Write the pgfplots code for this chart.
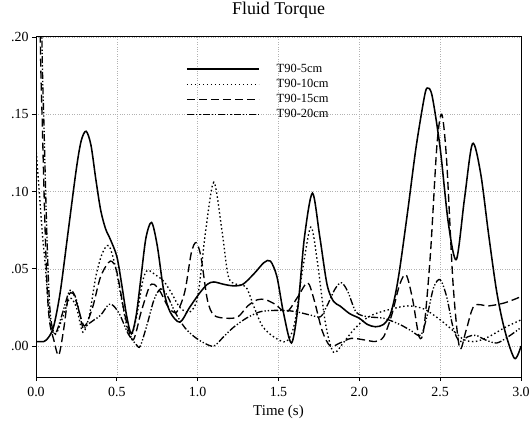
\documentclass[border=0pt]{standalone}
\usepackage{fontspec}
\setmainfont{Liberation Serif}
\usepackage{pgfplots}
\pgfplotsset{compat=1.18}
\begin{document}
\begin{tikzpicture}
\begin{axis}[
  scale only axis, width=485bp, height=340bp,
  xmin=0, xmax=3, ymin=-0.02, ymax=0.2,
  xtick={0,0.5,1,1.5,2,2.5,3}, xticklabels={0.0,0.5,1.0,1.5,2.0,2.5,3.0},
  ytick={0,0.05,0.1,0.15,0.2}, yticklabels={.00,.05,.10,.15,.20},
  tick pos=left, tick align=outside, major tick length=4bp,
  tick style={black, line width=0.7pt},
  grid=major, grid style={dotted, gray!60, line width=0.6pt},
  axis line style={line width=1pt},
  /pgf/number format/assume math mode=true,
  ticklabel style={font=\fontsize{14}{16}\selectfont},
  xticklabel style={yshift=-3bp},
  title={Fluid Torque},
  title style={font=\fontsize{18}{20}\selectfont, at={(axis description cs:0.5,1)}, anchor=base, yshift=17bp},
  xlabel={Time (s)},
  xlabel style={font=\fontsize{15}{17}\selectfont, at={(axis description cs:0.5,0)}, anchor=base, yshift=-39bp},
  legend style={draw=none, fill=none, at={(rel axis cs:0,1)}, anchor=north west, xshift=150bp, yshift=-26bp,
    font=\fontsize{12.5}{14}\selectfont, row sep=3bp, inner sep=0pt,
    nodes={inner sep=0pt, text height=9bp, text depth=3bp}},
  legend cell align=left,
  legend image code/.code={\draw[#1] (0bp,0bp) -- (72bp,0bp);},
  every axis plot/.append style={black, smooth, line width=1.35pt},
]
% T90-5cm (solid)
\addplot[solid, line width=1.55pt] coordinates {
(0.00,0.003) (0.05,0.003) (0.08,0.006) (0.11,0.013) (0.15,0.035) (0.20,0.075)
(0.25,0.115) (0.28,0.133) (0.31,0.139) (0.34,0.130) (0.37,0.108) (0.40,0.088)
(0.43,0.076) (0.46,0.069) (0.50,0.058) (0.53,0.040) (0.56,0.020) (0.59,0.008)
(0.62,0.020) (0.65,0.045) (0.68,0.070) (0.715,0.080) (0.75,0.065) (0.79,0.036)
(0.83,0.022) (0.89,0.0155) (0.95,0.025) (1.01,0.034) (1.06,0.040) (1.10,0.0415)
(1.16,0.040) (1.22,0.039) (1.28,0.040) (1.35,0.047) (1.41,0.054) (1.45,0.055)
(1.49,0.045) (1.53,0.022) (1.58,0.002) (1.62,0.025) (1.66,0.070) (1.71,0.099)
(1.755,0.071) (1.80,0.040) (1.84,0.029) (1.88,0.026) (1.94,0.021) (2.00,0.018)
(2.05,0.014) (2.10,0.0125) (2.15,0.014) (2.19,0.020) (2.22,0.032) (2.25,0.050)
(2.30,0.088) (2.35,0.128) (2.40,0.160) (2.42,0.167) (2.45,0.162) (2.50,0.128)
(2.55,0.080) (2.60,0.056) (2.65,0.095) (2.70,0.131) (2.75,0.112) (2.80,0.072)
(2.85,0.035) (2.90,0.010) (2.96,-0.008) (3.00,0.000)
};
\addlegendentry{\hspace{17bp}T90-5cm}
% T90-10cm (dotted)
\addplot[dash pattern=on 1.5bp off 2.5bp] coordinates {
(0.00,0.128) (0.02,0.100) (0.04,0.072) (0.056,0.054) (0.07,0.035) (0.09,0.015)
(0.11,0.008) (0.13,0.009) (0.17,0.020) (0.21,0.031) (0.25,0.025) (0.29,0.009)
(0.33,0.020) (0.37,0.045) (0.41,0.060) (0.45,0.065) (0.49,0.052) (0.53,0.030)
(0.58,0.006) (0.62,0.018) (0.66,0.042) (0.69,0.049) (0.74,0.046) (0.79,0.042)
(0.84,0.034) (0.89,0.025) (0.95,0.022) (1.00,0.032) (1.05,0.075) (1.10,0.106)
(1.15,0.075) (1.19,0.045) (1.24,0.040) (1.30,0.038) (1.35,0.025) (1.40,0.013)
(1.47,0.006) (1.55,0.003) (1.60,0.015) (1.65,0.050) (1.70,0.077) (1.74,0.055)
(1.79,0.015) (1.84,-0.004) (1.90,0.002) (1.96,0.010) (2.03,0.017) (2.10,0.021)
(2.20,0.024) (2.30,0.026) (2.40,0.024) (2.50,0.017) (2.58,0.010) (2.65,0.004)
(2.72,0.003) (2.80,0.006) (2.90,0.012) (3.00,0.017)
};
\addlegendentry{\hspace{17bp}T90-10cm}
% T90-15cm (dashed)
\addplot[dash pattern=on 8bp off 4bp] coordinates {
(0.00,0.45) (0.025,0.21) (0.04,0.14) (0.055,0.08) (0.07,0.035) (0.085,0.015)
(0.11,0.004) (0.14,-0.006) (0.17,0.010) (0.20,0.032) (0.23,0.034) (0.26,0.025)
(0.30,0.013) (0.35,0.025) (0.40,0.045) (0.46,0.055) (0.50,0.048) (0.55,0.020)
(0.60,0.004) (0.65,0.022) (0.70,0.038) (0.73,0.040) (0.77,0.035) (0.82,0.025)
(0.87,0.022) (0.92,0.035) (0.96,0.060) (0.99,0.067) (1.02,0.058) (1.06,0.030)
(1.10,0.020) (1.18,0.018) (1.25,0.019) (1.31,0.026) (1.37,0.030) (1.42,0.030)
(1.48,0.027) (1.55,0.022) (1.62,0.032) (1.68,0.041) (1.72,0.030) (1.77,0.010)
(1.82,0.000) (1.88,0.002) (1.95,0.005) (2.03,0.004) (2.10,0.003) (2.15,0.006)
(2.20,0.020) (2.25,0.040) (2.29,0.046) (2.33,0.030) (2.37,0.006) (2.40,0.012)
(2.44,0.060) (2.48,0.130) (2.51,0.150) (2.54,0.120) (2.58,0.040) (2.62,-0.001)
(2.66,0.010) (2.71,0.026) (2.80,0.026) (2.90,0.028) (3.00,0.032)
};
\addlegendentry{\hspace{17bp}T90-15cm}
% T90-20cm (dash-dot-dot)
\addplot[dash pattern=on 7bp off 2bp on 1.3bp off 2bp on 1.3bp off 2bp] coordinates {
(0.01,0.45) (0.035,0.21) (0.05,0.14) (0.065,0.08) (0.08,0.035) (0.095,0.015)
(0.12,0.008) (0.16,0.020) (0.20,0.034) (0.22,0.036) (0.25,0.030) (0.29,0.012)
(0.32,0.014) (0.36,0.017) (0.40,0.020) (0.45,0.027) (0.48,0.026) (0.52,0.020)
(0.57,0.008) (0.62,0.001) (0.645,0.000) (0.69,0.015) (0.73,0.030) (0.77,0.037)
(0.81,0.033) (0.86,0.022) (0.92,0.012) (0.98,0.006) (1.04,0.002) (1.10,0.000)
(1.16,0.006) (1.22,0.012) (1.30,0.018) (1.38,0.022) (1.45,0.023) (1.55,0.023)
(1.62,0.022) (1.70,0.020) (1.76,0.019) (1.80,0.026) (1.85,0.037) (1.89,0.041)
(1.93,0.035) (1.98,0.022) (2.05,0.019) (2.15,0.018) (2.25,0.014) (2.32,0.010)
(2.38,0.007) (2.42,0.020) (2.46,0.038) (2.50,0.043) (2.54,0.032) (2.58,0.012)
(2.62,0.003) (2.67,0.006) (2.72,0.007) (2.78,0.004) (2.85,0.002) (2.92,0.006)
(3.00,0.012)
};
\addlegendentry{\hspace{17bp}T90-20cm}
\end{axis}
\pgfresetboundingbox
\useasboundingbox (-36bp,-58bp) rectangle (493bp,377bp);
\end{tikzpicture}
\end{document}
